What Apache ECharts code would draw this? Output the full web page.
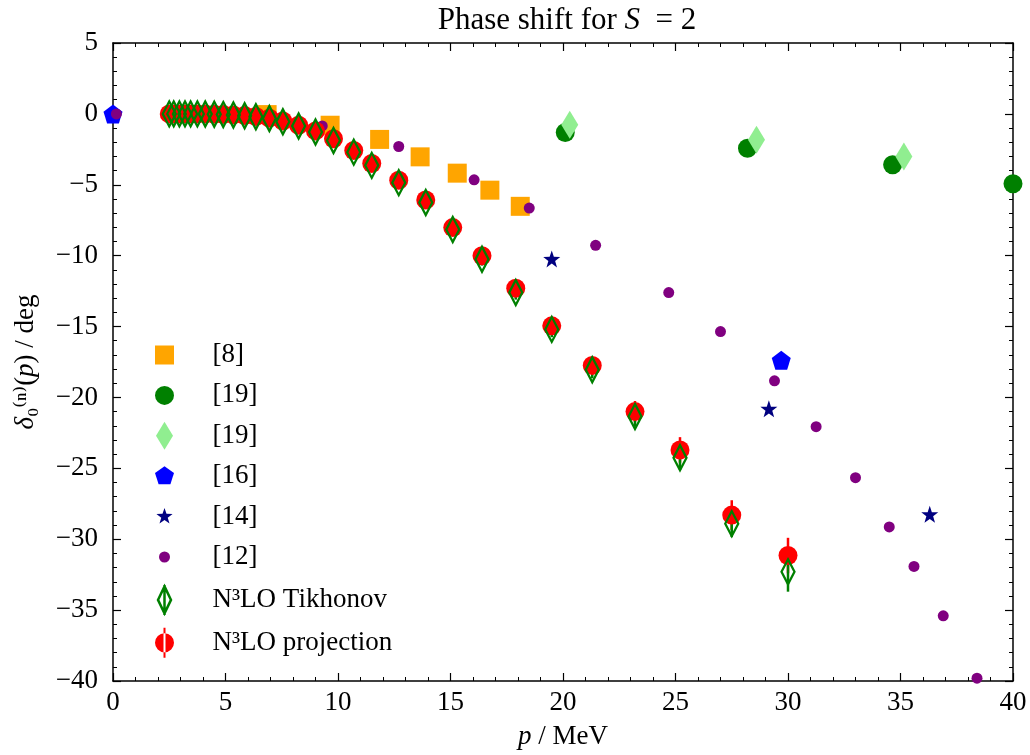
<!DOCTYPE html>
<html>
<head>
<meta charset="utf-8">
<script src="https://cdn.jsdelivr.net/npm/echarts@6/dist/echarts.min.js"></script>
<style>
  html, body { margin: 0; padding: 0; background: #fff; }
  #main { width: 1030px; height: 755px; }
</style>
</head>
<body>
<div id="main"></div>
<script>
// [8]
var ref8P = [6.85, 9.65, 11.85, 13.65, 15.3, 16.75, 18.1]
var ref8D = [-0.05, -0.8, -1.8, -3.03, -4.18, -5.38, -6.52]
// [19] circles
var ref19cP = [20.1, 28.2, 34.65, 40.0]
var ref19cD = [-1.31, -2.42, -3.59, -4.93]
// [19] diamonds
var ref19dP = [20.3, 28.6, 35.15]
var ref19dD = [-0.77, -1.83, -3.0]
// [16]
var ref16P = [0.0, 29.7]
var ref16D = [0.0, -17.37]
// [14]
var ref14P = [19.5, 29.15, 36.3]
var ref14D = [-10.23, -20.8, -28.24]
// [12]
var ref12P = [0.15, 9.3, 12.7, 16.05, 18.5, 21.45, 24.7, 27.0, 29.4, 31.25, 33.0, 34.5, 35.6, 36.9, 38.4]
var ref12D = [0.0, -0.85, -2.3, -4.65, -6.64, -9.27, -12.6, -15.35, -18.83, -22.06, -25.66, -29.13, -31.92, -35.4, -39.8]
// N3LO
var n3P = [2.5, 2.7, 2.95, 3.2, 3.45, 3.75, 4.1, 4.5, 4.9, 5.35, 5.85, 6.35, 6.95, 7.55, 8.25, 9.0, 9.8, 10.7, 11.5, 12.7, 13.9, 15.1, 16.4, 17.9, 19.5, 21.3, 23.2, 25.2, 27.5, 30.0]
var projD = [0, 0, 0, 0, 0, 0, 0, -0.02, -0.04, -0.07, -0.12, -0.18, -0.3, -0.5, -0.8, -1.2, -1.75, -2.58, -3.5, -4.68, -6.08, -8.02, -10.0, -12.3, -14.95, -17.75, -21.0, -23.7, -28.3, -31.15]
var projE = [0.02, 0.02, 0.02, 0.02, 0.03, 0.03, 0.03, 0.04, 0.05, 0.05, 0.06, 0.07, 0.08, 0.1, 0.12, 0.14, 0.17, 0.2, 0.25, 0.3, 0.35, 0.4, 0.45, 0.5, 0.55, 0.6, 0.75, 0.9, 1.05, 1.25]
var tikD = [0, 0, 0, 0, 0, 0, -0.01, -0.03, -0.05, -0.08, -0.13, -0.2, -0.33, -0.55, -0.85, -1.28, -1.88, -2.7, -3.63, -4.85, -6.25, -8.15, -10.25, -12.6, -15.2, -18.05, -21.35, -24.25, -28.9, -32.3]
var tikE = [0.02, 0.02, 0.02, 0.02, 0.03, 0.03, 0.03, 0.04, 0.05, 0.05, 0.06, 0.07, 0.08, 0.1, 0.12, 0.14, 0.17, 0.2, 0.25, 0.3, 0.35, 0.4, 0.45, 0.5, 0.55, 0.6, 0.7, 0.85, 0.95, 1.4]

var legendNames = {
  r8: '[8]', r19c: '[19]', r19d: '[19]', r16: '[16]', r14: '[14]', r12: '[12]',
  tik: 'N³LO Tikhonov', proj: 'N³LO projection'
}

var FONT = '"Liberation Serif", "DejaVu Serif", serif'
var FS = 27

function pairs (xs, ys) {
  return xs.map(function (x, i) { return [x, ys[i]] })
}
function bars (xs, ys, es) {
  return xs.map(function (x, i) { return [x, ys[i] - es[i], ys[i] + es[i]] })
}
function errorBar (color) {
  return function (params, api) {
    var x = api.value(0)
    var a = api.coord([x, api.value(1)])
    var b = api.coord([x, api.value(2)])
    return {
      type: 'line',
      shape: { x1: a[0], y1: a[1], x2: b[0], y2: b[1] },
      style: { stroke: color, lineWidth: 2.5 }
    }
  }
}

var pentagon = 'path://M16,6 L25.5,12.9 L21.9,24.1 L10.1,24.1 L6.5,12.9 Z'
var star = 'path://M16,7.5 L18,13.25 L24.08,13.37 L19.23,17.05 L21,22.88 L16,19.4 L11,22.88 L12.77,17.05 L7.92,13.37 L14,13.25 Z'

// legend icons in a 32x32 frame (corner moves keep the frame)
var F = 'path://M0,0 M32,32 '
var icons = {
  r8: F + 'M6.5,6.5 L25.5,6.5 L25.5,25.5 L6.5,25.5 Z',
  r19c: F + 'M6.5,16 A9.5,9.5 0 1,0 25.5,16 A9.5,9.5 0 1,0 6.5,16 Z',
  r19d: F + 'M16,2 L24.5,16 L16,30 L7.5,16 Z',
  r16: F + 'M16,6 L25.5,12.9 L21.9,24.1 L10.1,24.1 L6.5,12.9 Z',
  r14: F + 'M16,7.5 L18,13.25 L24.08,13.37 L19.23,17.05 L21,22.88 L16,19.4 L11,22.88 L12.77,17.05 L7.92,13.37 L14,13.25 Z',
  r12: F + 'M10.5,16 A5.5,5.5 0 1,0 21.5,16 A5.5,5.5 0 1,0 10.5,16 Z',
  tik: F + 'M16,2.5 L22.5,16 L16,29.5 L9.5,16 Z M16,1 L16,31',
  proj: F + 'M6.5,16 A9.5,9.5 0 1,0 25.5,16 A9.5,9.5 0 1,0 6.5,16 Z M15,1 L17,1 L17,31 L15,31 Z'
}

var richItalic = { i: { fontStyle: 'italic', fontFamily: FONT, fontSize: FS, color: '#000' } }
var axisLineStyle = { color: '#000', width: 1.5 }
function xAx (pos, labels) {
  return {
    type: 'value', position: pos, min: 0, max: 40, interval: 5,
    axisLine: { show: true, onZero: false, lineStyle: axisLineStyle },
    axisTick: { show: true, inside: true, length: 8, lineStyle: { color: '#000', width: 1.2 } },
    minorTick: { show: true, splitNumber: 5, length: 4, lineStyle: { color: '#000', width: 1 } },
    splitLine: { show: false },
    axisLabel: { show: labels, color: '#000', fontFamily: FONT, fontSize: FS, margin: 8 },
    name: labels ? '{i|p} / MeV' : '',
    nameLocation: 'middle',
    nameGap: 42,
    nameTextStyle: { color: '#000', fontFamily: FONT, fontSize: FS, rich: richItalic }
  }
}
function yAx (pos, labels) {
  return {
    type: 'value', position: pos, min: -40, max: 5, interval: 5,
    axisLine: { show: true, onZero: false, lineStyle: axisLineStyle },
    axisTick: { show: true, inside: true, length: 8, lineStyle: { color: '#000', width: 1.2 } },
    minorTick: { show: true, splitNumber: 5, length: 4, lineStyle: { color: '#000', width: 1 } },
    splitLine: { show: false },
    axisLabel: {
      show: labels, color: '#000', fontFamily: FONT, fontSize: FS, margin: 15,
      formatter: function (v) { return String(v).replace('-', '\u2212') }
    },
    name: labels ? '{i|δ}₀⁽ⁿ⁾({i|p}) / deg' : '',
    nameLocation: 'middle',
    nameGap: 74,
    nameRotate: 90,
    nameTextStyle: { color: '#000', fontFamily: FONT, fontSize: FS, rich: richItalic }
  }
}

var myChart = echarts.init(document.getElementById('main'))

var option = {
  backgroundColor: '#fff',
  animation: false,
  title: {
    text: 'Phase shift for {i|S}\u2002= 2',
    left: 562,
    top: 0,
    textAlign: 'center',
    textStyle: {
      color: '#000', fontFamily: FONT, fontSize: 31, fontWeight: 'normal',
      rich: { i: { fontStyle: 'italic', fontFamily: FONT, fontSize: 31, color: '#000' } }
    }
  },
  grid: { left: 113, right: 17, top: 43, bottom: 73 },
  xAxis: [xAx('bottom', true), xAx('top', false)],
  yAxis: [yAx('left', true), yAx('right', false)],
  legend: {
    orient: 'vertical',
    left: 141,
    top: 334,
    itemWidth: 86,
    itemHeight: 32,
    itemGap: 8.4,
    padding: 5,
    formatter: function (name) { return legendNames[name] },
    textStyle: { color: '#000', fontFamily: FONT, fontSize: FS },
    data: [
      { name: 'r8', icon: icons.r8 },
      { name: 'r19c', icon: icons.r19c },
      { name: 'r19d', icon: icons.r19d },
      { name: 'r16', icon: icons.r16 },
      { name: 'r14', icon: icons.r14 },
      { name: 'r12', icon: icons.r12 },
      { name: 'tik', icon: icons.tik, itemStyle: { color: 'none', borderColor: 'green', borderWidth: 2.5 } },
      { name: 'proj', icon: icons.proj }
    ]
  },
  series: [
    {
      name: 'r8', type: 'scatter', symbol: 'rect', symbolSize: 19,
      itemStyle: { color: 'orange', opacity: 1 },
      data: pairs(ref8P, ref8D)
    },
    {
      name: 'r19c', type: 'scatter', symbol: 'circle', symbolSize: 19,
      itemStyle: { color: 'green', opacity: 1 },
      data: pairs(ref19cP, ref19cD)
    },
    {
      name: 'r19d', type: 'scatter', symbol: 'diamond', symbolSize: [17, 28],
      itemStyle: { color: 'lightgreen', opacity: 1 },
      data: pairs(ref19dP, ref19dD)
    },
    {
      name: 'r16', type: 'scatter', symbol: pentagon, symbolSize: 19,
      itemStyle: { color: 'blue', opacity: 1 },
      data: pairs(ref16P, ref16D)
    },
    {
      name: 'r14', type: 'scatter', symbol: star, symbolSize: 17,
      itemStyle: { color: 'navy', opacity: 1 },
      data: pairs(ref14P, ref14D)
    },
    {
      name: 'r12', type: 'scatter', symbol: 'circle', symbolSize: 11,
      itemStyle: { color: 'purple', opacity: 1 },
      data: pairs(ref12P, ref12D)
    },
    {
      name: 'projErr', type: 'custom', renderItem: errorBar('red'),
      encode: { x: 0, y: [1, 2] },
      data: bars(n3P, projD, projE)
    },
    {
      name: 'proj', type: 'scatter', symbol: 'circle', symbolSize: 19,
      itemStyle: { color: 'red', opacity: 1 },
      data: pairs(n3P, projD)
    },
    {
      name: 'tikErr', type: 'custom', renderItem: errorBar('green'),
      encode: { x: 0, y: [1, 2] },
      data: bars(n3P, tikD, tikE)
    },
    {
      name: 'tik', type: 'scatter', symbol: 'diamond', symbolSize: [13, 25],
      itemStyle: { color: 'rgba(0,0,0,0)', borderColor: 'green', borderWidth: 2.5, opacity: 1 },
      data: pairs(n3P, tikD)
    }
  ]
}
myChart.setOption(option)
</script>
</body>
</html>
